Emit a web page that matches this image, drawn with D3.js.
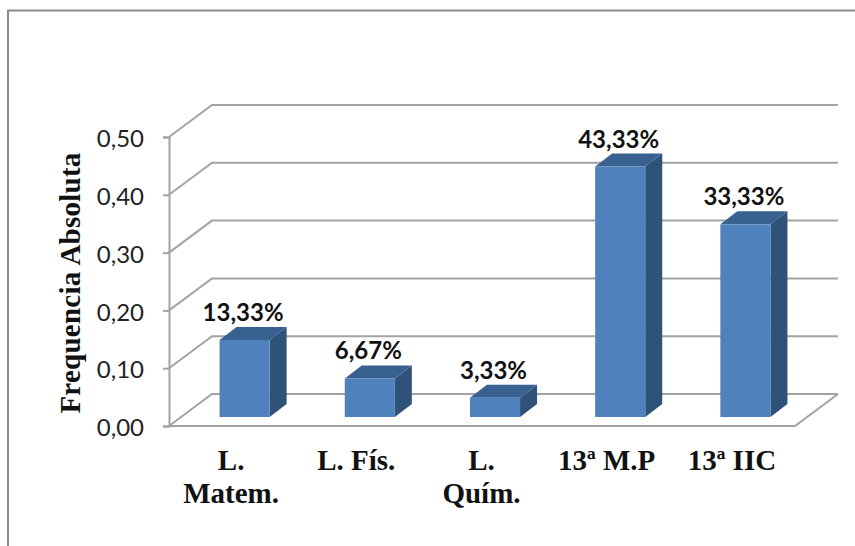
<!DOCTYPE html>
<html>
<head>
<meta charset="utf-8">
<script src="https://cdnjs.cloudflare.com/ajax/libs/d3/7.8.5/d3.min.js"></script>
<style>
html,body{margin:0;padding:0;background:#fff;}
svg{display:block;}
</style>
</head>
<body>
<script>
const categories = [["L.","Matem."],["L. Fís."],["L.","Quím."],["13ª M.P"],["13ª IIC"]];
const values = [0.1333,0.0667,0.0333,0.4333,0.3333];
const valueLabels = ["13,33%","6,67%","3,33%","43,33%","33,33%"];
const tickValues = [0,0.1,0.2,0.3,0.4,0.5];
const axisTitle = "Frequencia Absoluta";

const W = 855, H = 546;
const svg = d3.select("body").append("svg").attr("width",W).attr("height",H);

// Chart frame: only the left and top edges fall inside the canvas
svg.append("path").attr("d",`M8,${H} V10.5 H${W}`)
  .attr("fill","none").attr("stroke","#8a8a8a").attr("stroke-width",2);

// Front plane of the pseudo-3D plot and the oblique offset of the back wall
const x = d3.scaleBand().domain(d3.range(categories.length)).range([169,795]);
const y = d3.scaleLinear().domain([0,0.5]).range([426,137]);
const depth = {dx:43, dy:-32};
const barInset = {dx:13, dy:-9};
const barDepth = {dx:17, dy:-13};
const barW = x.bandwidth()*0.4;

const grid = "#a3a3a3";
const gridG = svg.append("g").attr("fill","none").attr("stroke",grid).attr("stroke-width",2);
tickValues.forEach(t=>{
  const yy = y(t);
  gridG.append("path").attr("d",
    `M${x.range()[0]},${yy} L${x.range()[0]+depth.dx},${yy+depth.dy} H${x.range()[1]+depth.dx}`);
});
// Floor outline
gridG.append("path").attr("d",
  `M${x.range()[0]},${y(0)} H${x.range()[1]} L${x.range()[1]+depth.dx},${y(0)+depth.dy}`);

// Value axis with comma decimals
const axis = d3.axisLeft(y).tickValues(tickValues).tickSize(6).tickPadding(19)
  .tickFormat(d=>d3.format(".2f")(d).replace(".",","));
const axisG = svg.append("g").attr("transform",`translate(${x.range()[0]},0)`).call(axis);
axisG.select(".domain").attr("stroke",grid).attr("stroke-width",2);
axisG.selectAll(".tick line").attr("stroke",grid).attr("stroke-width",2);
axisG.selectAll(".tick text").attr("font-family","Lato, sans-serif").attr("font-size",24)
  .attr("fill","#222").attr("dy","0.4em");

// Bars: side and top faces sit behind the front face
const bars = svg.append("g").selectAll("g").data(values).join("g");
const barLeft = (d,i)=>x(i)+(x.bandwidth()-barW)/2+barInset.dx;
const barBase = y(0)+barInset.dy;
const barTop = d=>barBase-(y(0)-y(d));
bars.append("path").attr("fill","#2f5279").attr("d",(d,i)=>{
  const r=barLeft(d,i)+barW;
  return `M${r},${barTop(d)} l${barDepth.dx},${barDepth.dy} V${barBase+barDepth.dy} L${r},${barBase} Z`;
});
bars.append("path").attr("fill","#386090").attr("d",(d,i)=>{
  const l=barLeft(d,i);
  return `M${l},${barTop(d)} l${barDepth.dx},${barDepth.dy} h${barW} l${-barDepth.dx},${-barDepth.dy} Z`;
});
bars.append("rect").attr("fill","#4f81bd")
  .attr("x",barLeft).attr("y",barTop).attr("width",barW).attr("height",d=>barBase-barTop(d));

// Percentage labels above each bar
bars.append("text").text((d,i)=>valueLabels[i])
  .attr("x",(d,i)=>barLeft(d,i)+barW/2-1.5)
  .attr("y",d=>barTop(d)-19)
  .attr("text-anchor","middle").attr("font-family","Lato, sans-serif")
  .attr("font-weight",700).attr("font-size",24).attr("fill","#111");

// Category labels, wrapped onto two lines where needed
const catG = svg.append("g").selectAll("text").data(categories).join("text")
  .attr("text-anchor","middle").attr("font-family","'Liberation Serif', serif")
  .attr("font-weight",700).attr("font-size",29).attr("fill","#111");
catG.each(function(lines,i){
  const sel = d3.select(this);
  lines.forEach((s,k)=>{
    sel.append("tspan").text(s)
      .attr("x",x(i)+x.bandwidth()/2-0.5)
      .attr("y",470+k*33);
  });
});

// Vertical axis title
svg.append("text").text(axisTitle)
  .attr("transform","translate(80,283) rotate(-90)")
  .attr("text-anchor","middle").attr("font-family","'Liberation Serif', serif")
  .attr("font-weight",700).attr("font-size",29).attr("letter-spacing",0.25).attr("fill","#111");
</script>
</body>
</html>
